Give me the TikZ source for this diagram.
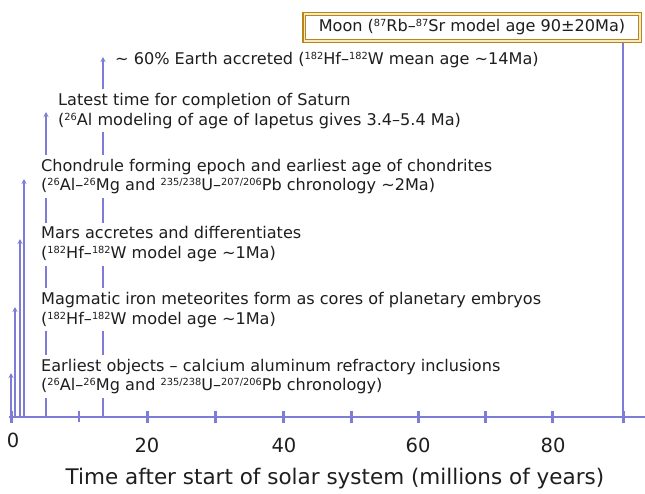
\documentclass[tikz,border=0pt]{standalone}
\usepackage{fontspec}
\setmainfont{DejaVu Sans}
\usetikzlibrary{arrows.meta}
\definecolor{lineblue}{RGB}{125,125,215}
\definecolor{boxgold}{RGB}{185,135,25}
\definecolor{boxcream}{RGB}{245,232,195}
\definecolor{txt}{RGB}{30,30,30}
\newcommand{\supx}[1]{\raisebox{4.8pt}{\fontsize{9.8}{12}\selectfont #1}}
\begin{document}
\begin{tikzpicture}[x=1pt,y=-1pt,
  evline/.style={draw=lineblue, line width=2pt, -{Stealth[length=5pt,width=5pt]}},
  axisline/.style={draw=lineblue, line width=2.5pt},
  majortick/.style={draw=lineblue, line width=3pt},
  minortick/.style={draw=lineblue, line width=2pt},
  evtext/.style={anchor=north west, align=left, fill=white, inner xsep=1pt, inner ysep=4pt, text=txt, font=\fontsize{16.1}{19.6}\selectfont},
  ticklabel/.style={text=txt, font=\fontsize{19.5}{22}\selectfont, inner sep=0pt},
  moonbox/.style={draw=boxgold, line width=3pt, fill=white, minimum width=337pt, minimum height=28.3pt, inner sep=0pt, text=txt, font=\fontsize{16.1}{19.6}\selectfont},
]
\useasboundingbox (0,0) rectangle (645,493);

% axis
\coordinate (axL) at (9,417);
\coordinate (axR) at (645,417);
\draw[axisline] (axL) -- (axR);

% tick positions on the axis
\coordinate (m0) at (11,417);
\coordinate (m10) at (79,417);
\coordinate (m20) at (147,417);
\coordinate (m30) at (215,417);
\coordinate (m40) at (283,417);
\coordinate (m50) at (351,417);
\coordinate (m60) at (418,417);
\coordinate (m70) at (485,417);
\coordinate (m80) at (552,417);
\coordinate (m90) at (623,417);

\draw[majortick] ([yshift=-6pt]m0) -- ([yshift=6pt]m0);
\draw[minortick] ([yshift=-5pt]m10) -- ([yshift=6pt]m10);
\foreach \t in {m20,m30,m40,m50,m60,m70,m80,m90}
  \draw[majortick] ([yshift=-6pt]\t) -- ([yshift=6pt]\t);

% event lines (base on axis, tip above)
\coordinate (b0) at (11,417);  \coordinate (t0) at (11,373);
\coordinate (b1) at (15,417);  \coordinate (t1) at (15,307);
\coordinate (b2) at (20,417);  \coordinate (t2) at (20,239);
\coordinate (b3) at (24,417);  \coordinate (t3) at (24,179);
\coordinate (b4) at (46,417);  \coordinate (t4) at (46,112);
\coordinate (b5) at (103,417); \coordinate (t5) at (103,57);
\draw[evline] (b0) -- (t0);
\draw[evline] (b1) -- (t1);
\draw[evline] (b2) -- (t2);
\draw[evline] (b3) -- (t3);
\draw[evline] (b4) -- (t4);
\draw[evline] (b5) -- (t5);

% event texts
\node[evtext, anchor=base west] (earth) at (114,64)
  {\textasciitilde{} 60\% Earth accreted (\supx{182}Hf–\supx{182}W mean age \textasciitilde 14Ma)};
\node[evtext] (saturn) at (57,89)
  {Latest time for completion of Saturn\\(\supx{26}Al modeling of age of Iapetus gives 3.4–5.4 Ma)};
\node[evtext] (chond) at (40,154.7)
  {Chondrule forming epoch and earliest age of chondrites\\(\supx{26}Al–\supx{26}Mg and \supx{235/238}U–\supx{207/206}Pb chronology \textasciitilde 2Ma)};
\node[evtext] (mars) at (40,222.3)
  {Mars accretes and differentiates\\(\supx{182}Hf–\supx{182}W model age \textasciitilde 1Ma)};
\node[evtext] (magm) at (40,288)
  {Magmatic iron meteorites form as cores of planetary embryos\\(\supx{182}Hf–\supx{182}W model age \textasciitilde 1Ma)};
\node[evtext] (earliest) at (40,354.7)
  {Earliest objects – calcium aluminum refractory inclusions\\(\supx{26}Al–\supx{26}Mg and \supx{235/238}U–\supx{207/206}Pb chronology)};

% moon
\node[moonbox] (moon) at (472,27.35) {Moon (\supx{87}Rb–\supx{87}Sr model age 90±20Ma)};
\draw[boxcream, line width=1.7pt] ([xshift=2.35pt,yshift=2.35pt]moon.south west) rectangle ([xshift=-2.35pt,yshift=-2.35pt]moon.north east);
\draw[boxgold, line width=1pt] ([xshift=3.7pt,yshift=3.7pt]moon.south west) rectangle ([xshift=-3.7pt,yshift=-3.7pt]moon.north east);
\draw[draw=lineblue, line width=2pt] (m90) -- (m90 |- moon.south);

% tick labels
\node[ticklabel] (l0) at (13,440) {0};
\node[ticklabel] (l20) at (147,445.5) {20};
\node[ticklabel] (l40) at (284,445.5) {40};
\node[ticklabel] (l60) at (418,445.5) {60};
\node[ticklabel] (l80) at (553,445.5) {80};

% axis title
\node[text=txt, font=\fontsize{21.5}{24}\selectfont, anchor=base, inner sep=0pt] (title) at (335,484.5)
  {Time after start of solar system (millions of years)};
\end{tikzpicture}
\end{document}
